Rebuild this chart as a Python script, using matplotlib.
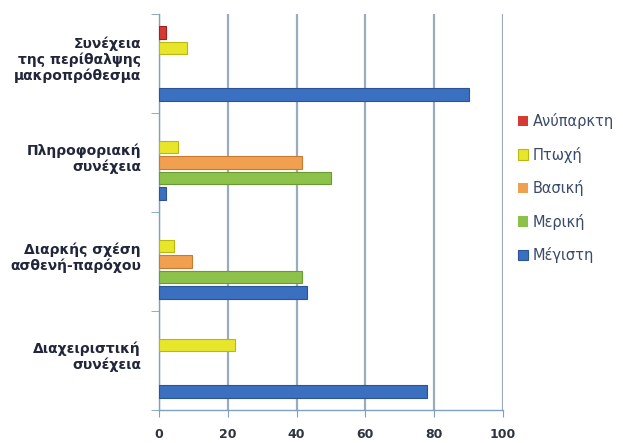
import matplotlib
matplotlib.use("Agg")
import matplotlib.pyplot as plt
import numpy as np

categories = ["Διαχειριστική\nσυνέχεια",
              "Διαρκής σχέση\nασθενή-παρόχου",
              "Πληροφοριακή\nσυνέχεια",
              "Συνέχεια\nτης περίθαλψης\nμακροπρόθεσμα"]
series_names = ["Μέγιστη", "Μερική", "Βασική", "Πτωχή", "Ανύπαρκτη"]
megisti = [78, 43, 2, 90]
meriki = [0, 41.5, 50, 0]
vasiki = [0, 9.5, 41.5, 0]
ptoxi = [22, 4.5, 5.5, 8]
anyparkti = [0, 0, 0, 2]
series_values = [megisti, meriki, vasiki, ptoxi, anyparkti]
colors = ["#3b6fbf", "#8dc24a", "#f0a04f", "#e8e62a", "#d63a35"]
edges = ["#2a5496", "#6a9a32", "#c87a30", "#b8b810", "#a02020"]
xticks = [0, 20, 40, 60, 80, 100]

fig = plt.figure(figsize=(6.23, 4.43), dpi=100)
ax = fig.add_axes([159/623, 1-410/443, (503-159)/623, (410-14)/443])

y = np.arange(len(categories))
w = 0.157
h = 0.13
handles = []
for i, (name, vals) in enumerate(zip(series_names, series_values)):
    lw = [0.8 if v > 0 else 0 for v in vals]
    b = ax.barh(y + (i - 2) * w, vals, height=h, color=colors[i],
                edgecolor=edges[i], linewidth=lw, label=name, zorder=3)
    handles.append(b)

ax.set_xlim(0, 100)
ax.set_ylim(-0.5, 3.5)
ax.set_xticks(xticks)
ax.set_xticklabels([str(t) for t in xticks], fontsize=9, fontweight="bold", color="#2e3440")
ax.set_yticks(y + 0.06)
ax.set_yticklabels(categories, fontsize=10, fontweight="bold", color="#22263a",
                   linespacing=1.1)
ax.tick_params(axis="y", length=0, pad=13)
ax.set_yticks(np.arange(-0.5, 4.0, 1.0), minor=True)
ax.tick_params(axis="y", which="minor", length=6, color="#7f9fbf", direction="out")
ax.tick_params(axis="x", length=5, color="#7f9fbf", pad=8)

ax.grid(axis="x", color="#9aabbd", linewidth=1.6, zorder=0)
for s in ["top", "right"]:
    ax.spines[s].set_visible(False)
ax.spines["left"].set_color("#7fa0c0")
ax.spines["bottom"].set_color("#7fa0c0")
ax.spines["left"].set_linewidth(1.0)
ax.spines["bottom"].set_linewidth(1.0)

leg = fig.legend(handles[::-1], series_names[::-1], loc="upper left",
                 bbox_to_anchor=(505/623, 1-100/443), frameon=False,
                 fontsize=10.5, labelspacing=1.2, handlelength=0.7, handleheight=0.7,
                 handletextpad=0.3)
for t in leg.get_texts():
    t.set_color("#3a4a6a")

fig.savefig("out.png", dpi=100)
